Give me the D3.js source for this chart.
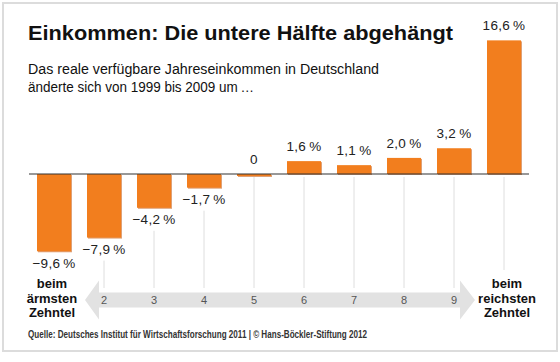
<!DOCTYPE html>
<html>
<head>
<meta charset="utf-8">
<script src="https://cdn.jsdelivr.net/npm/d3@7"></script>
<style>
  body { margin: 0; background: #fff; }
  svg text { font-family: "Liberation Sans", Arial, sans-serif; }
</style>
</head>
<body>
<div id="chart"></div>
<script>
// Einkommensentwicklung nach Dezilen 1999-2009
var deciles = [1, 2, 3, 4, 5, 6, 7, 8, 9, 10];
var changes = [-9.6, -7.9, -4.2, -1.7, 0, 1.6, 1.1, 2.0, 3.2, 16.6];
var valueLabels = ["\u22129,6\u2009%", "\u22127,9\u2009%", "\u22124,2\u2009%", "\u22121,7\u2009%", "0",
                   "1,6\u2009%", "1,1\u2009%", "2,0\u2009%", "3,2\u2009%", "16,6\u2009%"];
var axisLabels = ["2", "3", "4", "5", "6", "7", "8", "9"];
var leftLabel = ["beim", "ärmsten", "Zehntel"];
var rightLabel = ["beim", "reichsten", "Zehntel"];

var W = 560, H = 362;
var orange = "#f27e1e", orangeDark = "#c9621a";

var svg = d3.select("#chart").append("svg")
    .attr("width", W)
    .attr("height", H);

// Rahmen
svg.append("rect")
    .attr("x", 3).attr("y", 3)
    .attr("width", 554).attr("height", 348)
    .attr("fill", "#fff")
    .attr("stroke", "#dcdcdc")
    .attr("stroke-width", 2);

// Titel
svg.append("text")
    .attr("x", 28).attr("y", 40)
    .attr("font-size", 20.5)
    .attr("font-weight", "bold")
    .attr("fill", "#111")
    .attr("textLength", 425)
    .attr("lengthAdjust", "spacingAndGlyphs")
    .text("Einkommen: Die untere Hälfte abgehängt");

svg.append("text")
    .attr("x", 28).attr("y", 74)
    .attr("font-size", 14)
    .attr("fill", "#111")
    .attr("textLength", 351)
    .attr("lengthAdjust", "spacingAndGlyphs")
    .text("Das reale verfügbare Jahreseinkommen in Deutschland");
svg.append("text")
    .attr("x", 28).attr("y", 92)
    .attr("font-size", 14)
    .attr("fill", "#111")
    .attr("textLength", 226)
    .attr("lengthAdjust", "spacingAndGlyphs")
    .text("änderte sich von 1999 bis 2009 um\u2009…");

var x = d3.scaleBand()
    .domain(deciles)
    .range([29, 529])
    .paddingInner(0.32)
    .paddingOuter(0.16);

var y = d3.scaleLinear()
    .domain([-10, 17])
    .range([254.5, 37.15]);

var cx = function(d){ return x(d) + x.bandwidth() / 2; };

// Pfeil unten
var arrowY = 300;
var arrow = d3.path();
arrow.moveTo(85, arrowY);
arrow.lineTo(99, arrowY - 19.5);
arrow.lineTo(99, arrowY - 7.5);
arrow.lineTo(460, arrowY - 7.5);
arrow.lineTo(460, arrowY - 19.5);
arrow.lineTo(475, arrowY);
arrow.lineTo(460, arrowY + 19.5);
arrow.lineTo(460, arrowY + 7.5);
arrow.lineTo(99, arrowY + 7.5);
arrow.lineTo(99, arrowY + 19.5);
arrow.closePath();
svg.append("path")
    .attr("d", arrow.toString())
    .attr("fill", "#e2e2e2");

// Hilfslinien
svg.selectAll(".grid")
    .data(deciles.slice(1))
    .enter().append("line")
    .attr("class", "grid")
    .attr("x1", cx).attr("x2", cx)
    .attr("y1", function(d, i){
        var v = changes[i + 1];
        return v < 0 ? y(v) + 23 : y(0) + 3;
    })
    .attr("y2", function(d){ return d == 10 ? 270 : 288; })
    .attr("stroke", "#dedede")
    .attr("stroke-width", 1);

// Balken (Schatten + Fläche)
var bars = svg.selectAll(".bar")
    .data(deciles)
    .enter().append("g")
    .attr("class", "bar");

bars.append("rect")
    .attr("x", function(d){ return x(d) + 1; })
    .attr("y", function(d, i){ return Math.min(y(changes[i]), y(0)) + 1; })
    .attr("width", x.bandwidth())
    .attr("height", function(d, i){ return Math.max(Math.abs(y(changes[i]) - y(0)), 2); })
    .attr("fill", orangeDark)
    .attr("opacity", 0.6);

bars.append("rect")
    .attr("x", function(d){ return x(d); })
    .attr("y", function(d, i){ return Math.min(y(changes[i]), y(0)); })
    .attr("width", x.bandwidth())
    .attr("height", function(d, i){ return Math.max(Math.abs(y(changes[i]) - y(0)), 2); })
    .attr("fill", orange);

// Nulllinie
svg.append("line")
    .attr("x1", 29).attr("x2", 529)
    .attr("y1", y(0)).attr("y2", y(0))
    .attr("stroke", "#333")
    .attr("stroke-width", 1.2);

// Werte
svg.selectAll(".val")
    .data(deciles)
    .enter().append("text")
    .attr("class", "val")
    .attr("x", cx)
    .attr("y", function(d, i){
        var v = changes[i];
        return v < 0 ? y(v) + 16.5 : y(v) - 10;
    })
    .attr("text-anchor", "middle")
    .attr("font-size", 13.5)
    .attr("letter-spacing", 0.3)
    .attr("fill", "#222")
    .text(function(d, i){ return valueLabels[i]; });

// Dezil-Nummern im Pfeil
svg.selectAll(".num")
    .data(axisLabels)
    .enter().append("text")
    .attr("class", "num")
    .attr("x", function(d){ return cx(+d); })
    .attr("y", 304)
    .attr("text-anchor", "middle")
    .attr("font-size", 11)
    .attr("fill", "#555")
    .text(function(d){ return d; });

function endLabel(lines, xc){
    svg.append("g").selectAll("text")
        .data(lines)
        .enter().append("text")
        .attr("x", xc)
        .attr("y", function(d, i){ return 288 + i * 14.5; })
        .attr("text-anchor", "middle")
        .attr("font-size", 13)
        .attr("font-weight", "bold")
        .attr("fill", "#111")
        .text(function(d){ return d; });
}
endLabel(leftLabel, 52);
endLabel(rightLabel, 507);

// Quelle
svg.append("text")
    .attr("x", 28).attr("y", 338)
    .attr("font-size", 10)
    .attr("font-weight", "bold")
    .attr("fill", "#333")
    .attr("textLength", 339)
    .attr("lengthAdjust", "spacingAndGlyphs")
    .text("Quelle: Deutsches Institut für Wirtschaftsforschung 2011 | © Hans-Böckler-Stiftung 2012");
</script>
</body>
</html>
